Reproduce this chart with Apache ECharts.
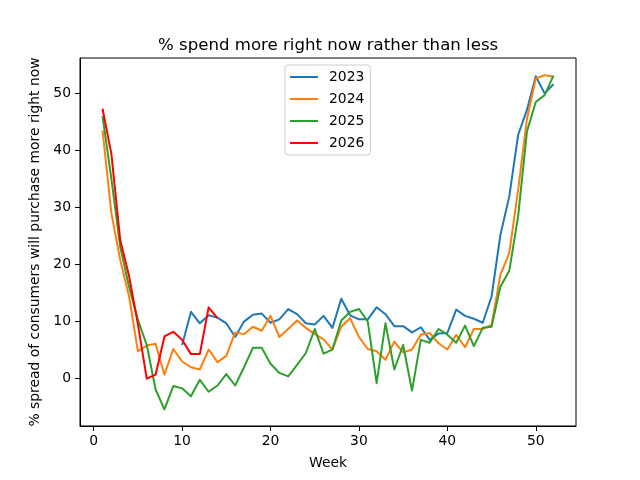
<!DOCTYPE html>
<html>
<head>
<meta charset="utf-8">
<script src="https://cdn.jsdelivr.net/npm/echarts@6/dist/echarts.min.js"></script>
<style>html,body{margin:0;padding:0;background:#fff}#c{width:640px;height:480px}</style>
</head>
<body>
<div id="c"></div>
<script>
const weeks = Array.from({length: 52}, (_, i) => i + 1);
const xTicks = [0, 10, 20, 30, 40, 50];
const yTicks = [0, 10, 20, 30, 40, 50];
const seriesNames = ['2023', '2024', '2025', '2026'];
const v2023 = [null, null, null, null, null, null, null, null, null,
  5.9, 11.7, 9.7, 11.1, 10.7, 9.7, 7.3, 10.0, 11.2, 11.4, 9.8,
  10.4, 12.2, 11.3, 9.7, 9.5, 11.0, 8.9, 14.0, 11.1, 10.4,
  10.4, 12.5, 11.3, 9.2, 9.2, 8.1, 9.0, 6.8, 7.9, 8.0,
  12.1, 11.0, 10.5, 9.8, 14.4, 25.2, 31.9, 42.7, 47.1, 53.0,
  50.0, 51.6];
const v2024 = [43.5, 29.0, 20.8, 14.4, 4.8, 5.8, 6.1, 0.7, 5.2, 3.0,
  2.0, 1.6, 5.1, 2.9, 4.0, 8.1, 7.8, 9.1, 8.4, 11.0,
  7.3, 8.7, 10.2, 8.9, 7.8, 6.9, 5.1, 9.1, 10.6, 7.3,
  5.2, 4.8, 3.3, 6.5, 4.6, 5.1, 7.7, 8.0, 6.2, 5.1,
  7.7, 5.5, 8.7, 8.7, 9.4, 18.2, 22.0, 33.0, 45.5, 52.6,
  53.2, 52.9];
const v2025 = [46.0, 35.0, 23.1, 16.1, 10.3, 5.9, -1.9, -5.4, -1.3, -1.7,
  -3.1, -0.2, -2.3, -1.2, 0.8, -1.2, 2.0, 5.4, 5.4, 2.6,
  1.0, 0.4, 2.4, 4.5, 8.7, 4.4, 5.1, 10.2, 11.7, 12.2,
  10.0, -0.8, 9.7, 1.6, 5.9, -2.1, 6.8, 6.3, 8.7, 7.7,
  6.3, 9.3, 5.7, 8.9, 9.1, 16.1, 18.9, 28.4, 43.3, 48.5,
  49.7, 53.1];
const v2026 = [47.3, 39.4, 24.3, 18.0, 9.5, 0.0, 0.7, 7.4, 8.2, 6.8,
  4.3, 4.3, 12.5, 10.6];
const colors = ['#1f77b4', '#ff7f0e', '#2ca02c', '#ff0000'];

const allValues = [v2023, v2024, v2025, v2026];
const pairs = vals => weeks.slice(0, vals.length).map((w, i) => [w, vals[i]]);

const font = 'DejaVu Sans';
const chart = echarts.init(document.getElementById('c'), null, {renderer: 'canvas'});
chart.setOption({
  animation: false,
  backgroundColor: '#fff',
  title: {
    text: '% spend more right now rather than less',
    left: 153, top: 32,
    textStyle: {fontFamily: font, fontSize: 16.6, fontWeight: 'normal', color: '#000'}
  },
  grid: {left: 80, right: 64, top: 58, bottom: 54, show: true, borderColor: '#000', borderWidth: 1, backgroundColor: 'transparent'},
  legend: {
    orient: 'vertical', left: 285, top: 65,
    padding: [4, 6, 4, 5], itemGap: 6, itemWidth: 28, itemHeight: 2,
    icon: 'rect',
    backgroundColor: 'rgba(255,255,255,0.8)', borderColor: '#cccccc', borderWidth: 1, borderRadius: 3,
    textStyle: {fontFamily: font, fontSize: 13.9, color: '#000', lineHeight: 16, padding: [0, 0, 0, 6]},
    data: seriesNames
  },
  xAxis: {
    type: 'value', min: -1.55, max: 54.55,
    name: 'Week', nameLocation: 'middle', nameGap: 30,
    nameTextStyle: {fontFamily: font, fontSize: 13.9, color: '#000'},
    splitLine: {show: false},
    axisLine: {show: true, onZero: false, lineStyle: {color: '#000'}},
    axisTick: {show: true, length: 5, customValues: xTicks, lineStyle: {color: '#000'}},
    axisLabel: {customValues: xTicks, margin: 8, fontFamily: font, fontSize: 13.9, color: '#000'}
  },
  yAxis: {
    type: 'value', min: -8.3, max: 56.2,
    name: '% spread of consumers will purchase more right now', nameLocation: 'middle', nameGap: 32,
    nameTextStyle: {fontFamily: font, fontSize: 13.9, color: '#000'},
    splitLine: {show: false},
    axisLine: {show: true, onZero: false, lineStyle: {color: '#000'}},
    axisTick: {show: true, length: 5, customValues: yTicks, lineStyle: {color: '#000'}},
    axisLabel: {customValues: yTicks, margin: 9, fontFamily: font, fontSize: 13.9, color: '#000'}
  },
  series: seriesNames.map((n, i) => ({
    name: n, type: 'line', data: pairs(allValues[i]),
    showSymbol: false, symbol: 'none', connectNulls: false,
    lineStyle: {width: 2, color: colors[i], join: 'round'},
    itemStyle: {color: colors[i]}
  }))
});
</script>
</body>
</html>
